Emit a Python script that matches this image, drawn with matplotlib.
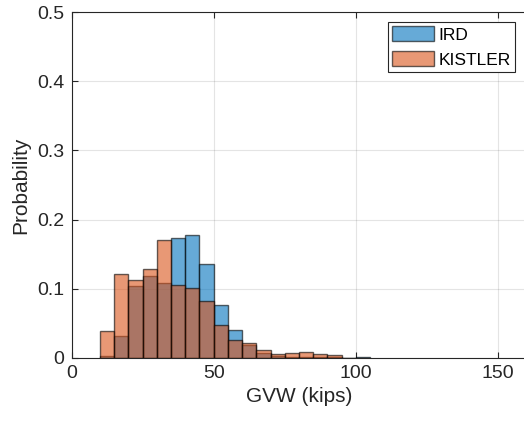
import numpy as np
import matplotlib
matplotlib.use('Agg')
import matplotlib.pyplot as plt

# bin edges in kips (width 5)
bin_edges = np.arange(10, 110, 5)

# probability per bin
ird = [0.003, 0.032, 0.104, 0.119, 0.109, 0.173, 0.178, 0.136, 0.077, 0.041,
       0.019, 0.0077, 0.003, 0.002, 0.0015, 0.001, 0.001, 0.0, 0.0014]
kistler = [0.039, 0.122, 0.112, 0.129, 0.171, 0.106, 0.101, 0.0825, 0.048, 0.026,
           0.022, 0.0115, 0.006, 0.0072, 0.0086, 0.0058, 0.0043, 0.0, 0.0]

blue = (0.0, 0.447, 0.741)
orange = (0.85, 0.325, 0.098)

plt.rcParams['font.family'] = ['Liberation Sans', 'DejaVu Sans']

fig = plt.figure(figsize=(5.24, 4.21), dpi=100)
ax = fig.add_axes([71.5 / 524, 63 / 421, 455 / 524, 346 / 421])

left = bin_edges[:-1]
w = np.diff(bin_edges)
ax.bar(left, ird, width=w, align='edge', color=blue, alpha=0.6,
       edgecolor='black', linewidth=1.0, label='IRD', zorder=2)
ax.bar(left, kistler, width=w, align='edge', color=orange, alpha=0.6,
       edgecolor='black', linewidth=1.0, label='KISTLER', zorder=3)

ax.set_xlim(0, 160)
ax.set_ylim(0, 0.5)
ax.set_xticks([0, 50, 100, 150])
ax.set_yticks([0, 0.1, 0.2, 0.3, 0.4, 0.5])
ax.set_yticklabels(['0', '0.1', '0.2', '0.3', '0.4', '0.5'])
ax.grid(True, color='0.15', alpha=0.12, linewidth=0.8, zorder=0)
ax.set_axisbelow(True)
# right ticks would sit on the image edge, the reference has none visible
ax.tick_params(direction='in', top=True, right=False, labelsize=14,
               colors='0.15', length=4, pad=5)
for s in ax.spines.values():
    s.set_color('0.15')
    s.set_linewidth(0.8)
ax.set_xlabel('GVW (kips)', fontsize=15, color='0.15', labelpad=4)
ax.set_ylabel('Probability', fontsize=15, color='0.15', labelpad=5)

leg = ax.legend(loc='upper right', bbox_to_anchor=(443.5 / 455, 336 / 346),
                fontsize=12.5, fancybox=False, edgecolor='0.15', framealpha=1,
                handlelength=2.4, handleheight=0.95, borderpad=0.25,
                labelspacing=0.5, handletextpad=0.25, borderaxespad=0.0)
leg.get_frame().set_linewidth(0.8)

fig.savefig('out.png', dpi=100)
